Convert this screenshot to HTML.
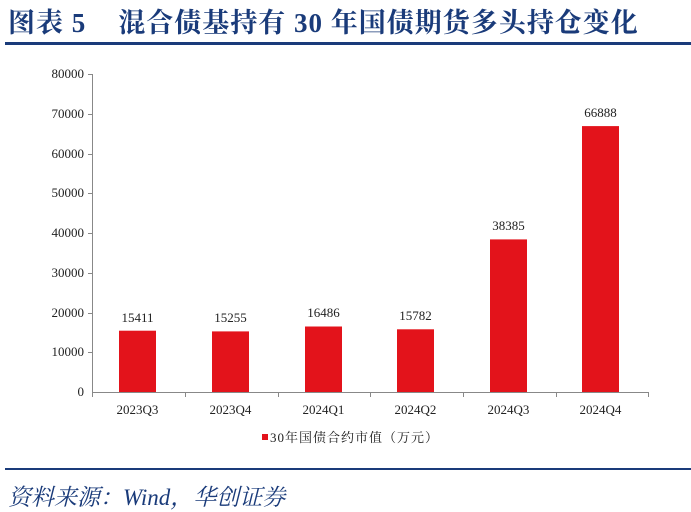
<!DOCTYPE html>
<html><head><meta charset="utf-8"><style>
body{margin:0;background:#fff;width:691px;height:510px;overflow:hidden;position:relative;font-family:"Liberation Serif","Noto Serif CJK SC",serif;}
.t{position:absolute;left:8px;top:1px;font-size:27px;font-weight:bold;color:#1a3b7a;white-space:nowrap;letter-spacing:1px;}
.t span{margin-left:32px;}
.l1{position:absolute;left:5px;top:42px;width:686px;height:3px;background:#1a3b7a;}
.l2{position:absolute;left:5px;top:468px;width:686px;height:2px;background:#1a3b7a;}
.src{position:absolute;left:8px;top:479px;font-size:23px;font-style:italic;color:#1a3b7a;white-space:nowrap;}
</style></head><body>
<div class="t">图表 5<span>混合债基持有 30 年国债期货多头持仓变化</span></div>
<div class="l1"></div>
<svg width="691" height="510" style="position:absolute;left:0;top:0" font-family="Liberation Serif, Noto Serif CJK SC, serif" font-size="13" fill="#222">
<g stroke="#888" stroke-width="1">
<line x1="92.5" y1="74" x2="92.5" y2="392"/>
<line x1="92" y1="392.5" x2="648" y2="392.5"/>
<line x1="88" y1="74.5" x2="92" y2="74.5"/><line x1="88" y1="114.5" x2="92" y2="114.5"/><line x1="88" y1="154.5" x2="92" y2="154.5"/><line x1="88" y1="193.5" x2="92" y2="193.5"/><line x1="88" y1="233.5" x2="92" y2="233.5"/><line x1="88" y1="273.5" x2="92" y2="273.5"/><line x1="88" y1="313.5" x2="92" y2="313.5"/><line x1="88" y1="352.5" x2="92" y2="352.5"/>
<line x1="92.5" y1="392" x2="92.5" y2="397"/><line x1="185.5" y1="392" x2="185.5" y2="397"/><line x1="278.5" y1="392" x2="278.5" y2="397"/><line x1="370.5" y1="392" x2="370.5" y2="397"/><line x1="463.5" y1="392" x2="463.5" y2="397"/><line x1="556.5" y1="392" x2="556.5" y2="397"/><line x1="648.5" y1="392" x2="648.5" y2="397"/>
</g>
<g text-anchor="end">
<text x="84" y="78">80000</text><text x="84" y="118">70000</text><text x="84" y="158">60000</text><text x="84" y="197">50000</text><text x="84" y="237">40000</text><text x="84" y="277">30000</text><text x="84" y="317">20000</text><text x="84" y="356">10000</text><text x="84" y="396">0</text>
</g>
<g fill="#e3131b">
<rect x="119" y="330.7" width="37" height="61.3"/>
<rect x="212" y="331.4" width="37" height="60.6"/>
<rect x="305" y="326.5" width="37" height="65.5"/>
<rect x="397" y="329.3" width="37" height="62.7"/>
<rect x="490" y="239.4" width="37" height="152.6"/>
<rect x="582" y="126.1" width="37" height="265.9"/>
</g>
<g text-anchor="middle">
<text x="137.5" y="322">15411</text><text x="230.5" y="322">15255</text><text x="323.5" y="317">16486</text><text x="415.5" y="320">15782</text><text x="508.5" y="230">38385</text><text x="600.5" y="117">66888</text>
<text x="137.5" y="414">2023Q3</text><text x="230.5" y="414">2023Q4</text><text x="323.5" y="414">2024Q1</text><text x="415.5" y="414">2024Q2</text><text x="508.5" y="414">2024Q3</text><text x="600.5" y="414">2024Q4</text>
</g>
<rect x="262" y="434" width="6" height="6" fill="#e3131b"/>
<text x="270" y="442" font-size="13" letter-spacing="1">30年国债合约市值（万元）</text>
</svg>
<div class="l2"></div>
<div class="src">资料来源：Wind，华创证券</div>
</body></html>
